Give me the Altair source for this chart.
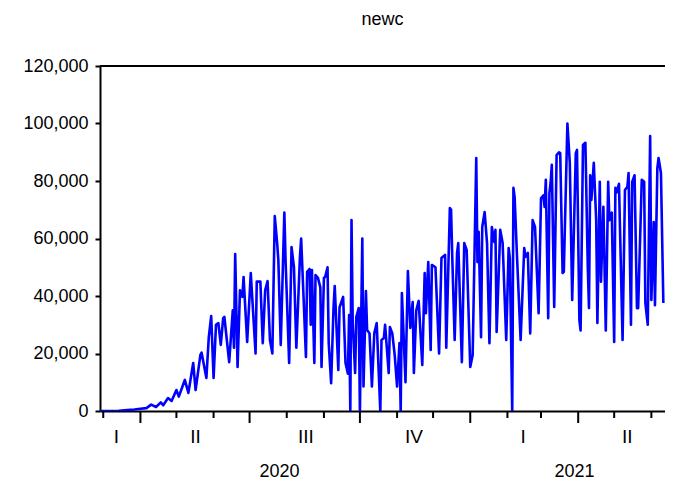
import altair as alt
import pandas as pd

# ---------------- data ----------------
START = "2020-02-26"  # day 0 of the series

days = [0, 9, 17, 24, 30, 35, 40, 44, 48, 52, 54, 58, 61, 65, 67, 72, 75, 79, 81, 85,
        86, 90, 92, 94, 96, 98, 100, 102, 104, 105, 109, 112, 113, 114, 116, 118, 120, 121, 124, 127,
        131, 132, 135, 137, 139, 141, 143, 145, 147, 149, 150, 152, 155, 156, 159, 161, 163, 165, 168, 169,
        171, 173, 174, 176, 177, 178, 180, 181, 183, 185, 186, 188, 189, 191, 192, 194, 196, 197, 200, 201,
        204, 206, 208, 209, 210, 211, 212, 214, 215, 217, 218, 220, 221, 223, 224, 226, 228, 230, 232, 235,
        236, 238, 239, 242, 243, 245, 247, 249, 251, 252, 253, 256, 258, 260, 262, 263, 265, 267, 270, 272,
        273, 275, 277, 278, 281, 284, 286, 289, 290, 293, 294, 295, 297, 299, 300, 303, 305, 307, 310, 312,
        315, 316, 317, 319, 320, 322, 324, 326, 328, 330, 331, 332, 335, 337, 340, 342, 343, 345, 346, 347,
        349, 352, 355, 356, 358, 360, 362, 364, 367, 369, 371, 372, 373, 375, 376, 377, 378, 380, 382, 384,
        385, 387, 388, 391, 393, 395, 398, 399, 401, 402, 404, 406, 408, 409, 410, 411, 413, 415, 416, 418,
        419, 421, 423, 425, 426, 428, 430, 431, 432, 434, 437, 439, 441, 442, 444, 445, 447, 449, 450, 453,
        455, 456, 458, 460, 461, 463, 464, 466, 467, 469, 471]

cases = [0, 0, 100, 300, 500, 800, 1000, 2200, 1400, 3000, 2000, 4500, 3500, 7300, 5000, 10800, 6300, 16700, 7300, 19500,
         20300, 11500, 25700, 33000, 11500, 30000, 30600, 23000, 32300, 32700, 17000, 35000, 22000, 54600, 15300, 42000, 39700, 46600, 24000, 48000,
         20000, 45000, 45000, 23600, 42000, 45200, 24700, 20000, 67800, 58400, 52500, 23000, 69000, 52500, 16700, 57000, 50000, 22000, 53600, 60000,
         39700, 18800, 48400, 49400, 30000, 49000, 16700, 47300, 46300, 43000, 15300, 46300, 46600, 50000, 23600, 9700, 36000, 43500, 14300, 36000,
         39700, 16700, 13000, 33400, 0, 66400, 30600, 13200, 32700, 35800, 0, 60000, 8500, 41700, 28200, 27000, 8500, 27000, 30600, 0,
         24700, 25400, 30000, 13200, 29200, 27000, 19500, 8500, 23600, 0, 41000, 10000, 48700, 28900, 37900, 13200, 35000, 38300, 16000, 48000,
         34000, 51800, 21200, 50800, 50000, 20000, 53200, 54300, 22000, 70600, 70000, 53600, 24700, 55000, 58400, 17000, 58400, 56000, 15300, 19500,
         88000, 51800, 62300, 25700, 64000, 69200, 58400, 23600, 64000, 58800, 63000, 27500, 63000, 58400, 24700, 56700, 53200, 0, 77600, 74400,
         53600, 24700, 56700, 53600, 55000, 27000, 66400, 64000, 34000, 74000, 75000, 71000, 80400, 32300, 75800, 79300, 85600, 36200, 89000, 90000,
         89700, 48000, 48400, 100000, 86300, 38600, 89700, 90800, 31600, 28000, 92500, 93300, 50000, 35800, 82000, 73400, 86300, 66400, 30600, 79700,
         45000, 71000, 28000, 79700, 66400, 69000, 24000, 77600, 76000, 79000, 24700, 76900, 78000, 82800, 30000, 79700, 82000, 35800, 35800, 80400,
         79700, 37600, 30000, 95600, 38600, 65700, 36800, 84500, 88000, 82800, 37600]

assert len(days) == len(cases)

month_ticks = ["2020-03-01", "2020-05-01", "2020-06-01", "2020-08-01", "2020-09-01",
               "2020-11-01", "2020-12-01", "2021-02-01", "2021-03-01", "2021-05-01", "2021-06-01"]
quarter_ticks = ["2020-04-01", "2020-07-01", "2020-10-01", "2021-01-01", "2021-04-01"]

quarter_labels = ["I", "II", "III", "IV", "I", "II"]
quarter_label_dates = ["2020-03-12", "2020-05-17", "2020-08-17", "2020-11-15", "2021-02-14", "2021-05-12"]

year_labels = ["2020", "2021"]
year_label_dates = ["2020-07-26", "2021-03-29"]

y_ticks = [0, 20000, 40000, 60000, 80000, 100000, 120000]

# ---------------- frames ----------------
series = pd.DataFrame({
    "date": pd.Timestamp(START) + pd.to_timedelta(days, unit="D"),
    "newc": cases,
})
mt = pd.DataFrame({"date": pd.to_datetime(month_ticks)})
qt = pd.DataFrame({"date": pd.to_datetime(quarter_ticks)})
ql = pd.DataFrame({"date": pd.to_datetime(quarter_label_dates), "label": quarter_labels})
yl = pd.DataFrame({"date": pd.to_datetime(year_label_dates), "label": year_labels})
one = pd.DataFrame({"t": ["newc"]})

W, H = 565, 345
FONT = "Liberation Sans"

xscale = alt.Scale(domain=[alt.DateTime(year=2020, month=2, date=27, hours=7),
                           alt.DateTime(year=2021, month=6, date=12, hours=9)])

line = alt.Chart(series).mark_line(color="#0000ff", strokeWidth=2.6, clip=True,
                                   strokeJoin="round").encode(
    x=alt.X("date:T", scale=xscale,
            axis=alt.Axis(title=None, labels=False, ticks=False, grid=False,
                          domainColor="black", domainWidth=2)),
    y=alt.Y("newc:Q", scale=alt.Scale(domain=[0, 120000], nice=False),
            axis=alt.Axis(title=None, values=y_ticks, format=",.0f", grid=False,
                          labelFont=FONT, labelFontSize=18, labelColor="black",
                          labelPadding=7, tickSize=5, tickWidth=2, tickColor="black",
                          domainColor="black", domainWidth=2)),
)

top_border = alt.Chart(one).mark_rule(color="black", strokeWidth=2).encode(
    x=alt.value(0), x2=alt.value(W), y=alt.value(0))

month_rules = alt.Chart(mt).mark_rule(color="black", strokeWidth=2).encode(
    x=alt.X("date:T", scale=xscale), y=alt.value(H), y2=alt.value(H + 7))

quarter_rules = alt.Chart(qt).mark_rule(color="black", strokeWidth=2).encode(
    x=alt.X("date:T", scale=xscale), y=alt.value(H), y2=alt.value(H + 12))

q_text = alt.Chart(ql).mark_text(font=FONT, fontSize=19, color="black",
                                 align="center", baseline="middle").encode(
    x=alt.X("date:T", scale=xscale), y=alt.value(H + 26), text="label:N")

y_text = alt.Chart(yl).mark_text(font=FONT, fontSize=18, color="black",
                                 align="center", baseline="middle").encode(
    x=alt.X("date:T", scale=xscale), y=alt.value(H + 61), text="label:N")

title = alt.Chart(one).mark_text(font=FONT, fontSize=18, color="black",
                                 align="center", baseline="alphabetic").encode(
    x=alt.value(W / 2), y=alt.value(-41), text="t:N")

chart = alt.layer(line, top_border, month_rules, quarter_rules, q_text, y_text, title).properties(
    width=W, height=H,
    autosize=alt.AutoSizeParams(type="none"),
    padding={"left": 92, "top": 58, "right": 0, "bottom": 71},
).configure_view(stroke=None).configure(background="white")

chart.save("out.html", embed_options={"renderer": "svg", "actions": False})
